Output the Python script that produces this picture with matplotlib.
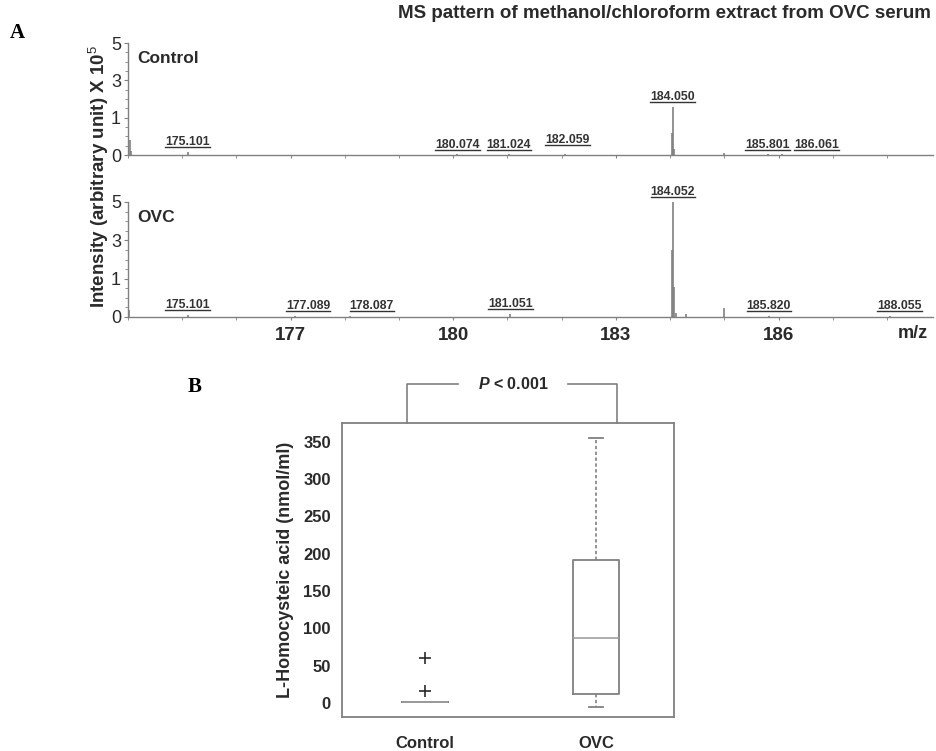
import numpy as np
import matplotlib
matplotlib.use("Agg")
import matplotlib.pyplot as plt
from matplotlib.lines import Line2D
from matplotlib.ticker import FixedLocator, MultipleLocator

plt.rcParams['font.family'] = ['Liberation Sans', 'DejaVu Sans']
plt.rcParams['mathtext.fontset'] = 'custom'
plt.rcParams['mathtext.rm'] = 'Liberation Sans'
plt.rcParams['mathtext.it'] = 'Liberation Sans:italic:bold'
plt.rcParams['mathtext.bf'] = 'Liberation Sans:bold'

# --- panel A: peak lists (intensity x 1e5) ---
control_mz = [174.03, 174.06, 175.101, 180.074, 181.024, 182.059,
              184.03, 184.050, 184.08, 185.00, 185.801, 186.061]
control_int = [0.40, 0.12, 0.08, 0.02, 0.02, 0.03,
               0.60, 1.58, 0.15, 0.05, 0.02, 0.02]
control_labels = ["175.101", "180.074", "181.024", "182.059",
                  "184.050", "185.801", "186.061"]

ovc_mz = [174.02, 175.101, 177.089, 178.087, 181.051,
          184.03, 184.052, 184.07, 184.10, 184.30, 185.00, 185.820, 188.055]
ovc_int = [0.19, 0.06, 0.02, 0.02, 0.08,
           2.50, 5.00, 0.78, 0.10, 0.08, 0.24, 0.03, 0.02]
ovc_labels = ["175.101", "177.089", "178.087", "181.051",
              "184.052", "185.820", "188.055"]

mz_ticks = [177, 180, 183, 186]
int_ticks = [0, 1, 3, 5]

# --- panel B: box plot stats (nmol/ml) ---
groups = ["Control", "OVC"]
box_low = [1, -6]
box_q1 = [1, 12]
box_med = [1, 87]
box_q3 = [1, 192]
box_high = [1, 355]
control_outliers = [60, 16]
conc_ticks = [0, 50, 100, 150, 200, 250, 300, 350]

W, H = 936, 751
GRAY = '#808080'
DARK = '#2a2a2a'


def fx(px):
    return px / W


def fy(py):
    return 1 - py / H


def fwd(y):
    y = np.asarray(y, dtype=float)
    return np.where(y < 1, y, 1 + (y - 1) / 2)


def inv(u):
    u = np.asarray(u, dtype=float)
    return np.where(u < 1, u, 1 + 2 * (u - 1))


def peak_height(mz_list, int_list, lab):
    m = float(lab)
    i = int(np.argmin(np.abs(np.array(mz_list) - m)))
    return int_list[i]


fig = plt.figure(figsize=(W / 100, H / 100), dpi=100)

ax1 = fig.add_axes([fx(128), fy(155), fx(933 - 128), 112 / H])
ax2 = fig.add_axes([fx(128), fy(317), fx(933 - 128), 115 / H])

offsets_c = {"186.061": 25, "182.059": 2}
offsets_o = {"177.089": 9, "178.087": 16, "188.055": 7}
peak_texts = []

for ax, mz, it, labs, offs, name in [
        (ax1, control_mz, control_int, control_labels, offsets_c, "Control"),
        (ax2, ovc_mz, ovc_int, ovc_labels, offsets_o, "OVC")]:
    ax.set_yscale('function', functions=(fwd, inv))
    ax.vlines(mz, 0, it, color=GRAY, lw=1.2)
    ax.set_xlim(174.0, 188.85)
    ax.set_ylim(0, 5)
    for s in ['top', 'right']:
        ax.spines[s].set_visible(False)
    for s in ['left', 'bottom']:
        ax.spines[s].set_color(GRAY)
        ax.spines[s].set_linewidth(1.0)
    ax.yaxis.set_major_locator(FixedLocator(int_ticks))
    ax.yaxis.set_minor_locator(FixedLocator(inv(np.arange(0, 3.01, 0.25))))
    ax.set_yticklabels([str(t) for t in int_ticks])
    ax.xaxis.set_major_locator(FixedLocator(mz_ticks))
    ax.xaxis.set_minor_locator(MultipleLocator(1))
    ax.tick_params(axis='y', which='major', length=3, color=GRAY, pad=2,
                   labelsize=13, labelcolor=DARK)
    ax.tick_params(axis='y', which='minor', length=2, color=GRAY)
    ax.tick_params(axis='x', which='both', length=2, color=GRAY,
                   direction='out')
    ax.text(0.012, 0.93, name, transform=ax.transAxes, fontsize=12.5,
            fontweight='bold', color=DARK, va='top')
    for lab in labs:
        h = peak_height(mz, it, lab)
        base = max(float(fwd(h)), 0.0)
        extra = 3 if lab == "182.059" else 0
        t = ax.annotate(lab, xy=(float(lab), inv(base + 0.1)),
                        xytext=(offs.get(lab, 0), extra),
                        textcoords='offset points', ha='center', va='bottom',
                        fontsize=8.8, fontweight='bold', color='#333333',
                        annotation_clip=False)
        peak_texts.append(t)

ax1.set_xticklabels([])
ax2.set_xticklabels([str(t) for t in mz_ticks], fontsize=13.5,
                    fontweight='bold', color=DARK)
ax2.tick_params(axis='x', which='major', pad=5)

fig.text(fx(913), fy(333), "m/z", fontsize=13, fontweight='bold',
         color=DARK, ha='center', va='center')
fig.text(fx(99), fy(176), r'Intensity (arbitrary unit) X 10$^{5}$',
         rotation=90, fontsize=13.5, fontweight='bold', color=DARK,
         ha='center', va='center')
fig.text(fx(664), fy(13), "MS pattern of methanol/chloroform extract from OVC serum",
         fontsize=13.5, fontweight='bold', color=DARK, ha='center', va='center')
fig.text(fx(10), fy(33), "A", family='Liberation Serif', fontsize=15,
         fontweight='bold', ha='left', va='center')
fig.text(fx(188), fy(387), "B", family='Liberation Serif', fontsize=15,
         fontweight='bold', ha='left', va='center')

# --- panel B ---
ax3 = fig.add_axes([fx(342), fy(717), fx(332), 294 / H])
stats = []
for i, g in enumerate(groups):
    stats.append(dict(label=g, whislo=box_low[i], q1=box_q1[i], med=box_med[i],
                      q3=box_q3[i], whishi=box_high[i],
                      fliers=control_outliers if g == "Control" else []))
ax3.bxp(stats, positions=[1, 2], widths=0.27, capwidths=0.08,
        boxprops=dict(color=GRAY, lw=1.3),
        medianprops=dict(color='#a0a0a0', lw=1.2),
        whiskerprops=dict(color=GRAY, lw=1.2, ls=(0, (2, 1.5))),
        capprops=dict(color=GRAY, lw=1.3),
        flierprops=dict(marker='+', markersize=8, markeredgecolor=DARK,
                        markeredgewidth=1.2))
ax3.set_xlim(0.515, 2.456)
ax3.set_ylim(-19, 375)
ax3.set_yticks(conc_ticks)
ax3.set_yticklabels([str(t) for t in conc_ticks], fontsize=12,
                    fontweight='bold', color=DARK)
ax3.set_xticklabels(groups, fontsize=12, fontweight='bold', color=DARK)
ax3.tick_params(axis='y', length=0, pad=8)
ax3.tick_params(axis='x', length=0, pad=14)
for s in ax3.spines.values():
    s.set_color(GRAY)
    s.set_linewidth(1.3)
ax3.set_ylabel("L-Homocysteic acid (nmol/ml)", fontsize=13,
               fontweight='bold', color=DARK, labelpad=7)

# significance bracket
trans = ax3.get_xaxis_transform()
top = 1.133
ax3.plot([0.895, 0.895, 1.195], [1.0, top, top], color=GRAY, lw=1.2,
         transform=trans, clip_on=False)
ax3.plot([1.838, 2.12, 2.12], [top, top, 1.0], color=GRAY, lw=1.2,
         transform=trans, clip_on=False)
ax3.text(1.515, top, r'$\mathit{P}$ < 0.001', transform=trans, ha='center',
         va='center', fontsize=11.5, fontweight='bold', color=DARK)

# underline the peak labels
fig.canvas.draw()
renderer = fig.canvas.get_renderer()
for t in peak_texts:
    bb = t.get_window_extent(renderer)
    x0, x1 = bb.x0 / fig.bbox.width, bb.x1 / fig.bbox.width
    yl = (bb.y0 + 1) / fig.bbox.height
    fig.add_artist(Line2D([x0, x1], [yl, yl], color='#333333', lw=1.0))

fig.savefig("out.png", dpi=100)
